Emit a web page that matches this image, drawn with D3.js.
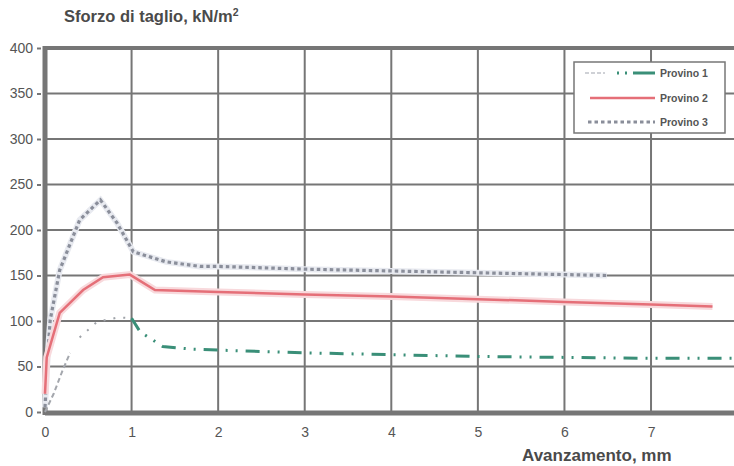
<!DOCTYPE html>
<html><head><meta charset="utf-8">
<script src="https://cdn.jsdelivr.net/npm/d3@7"></script>
<style>body{margin:0;background:#fff}svg{display:block}</style>
</head><body>
<svg id="c" width="734" height="466"></svg>
<script>
const xTicks = [0,1,2,3,4,5,6,7,8];
const yTicks = [0,50,100,150,200,250,300,350,400];
const seriesNames = ["Provino 1","Provino 2","Provino 3"];
// Provino 1: initial grey part and green part
const p1StartX = [0,0.1,0.2,0.29];
const p1StartY = [0,20,45,65];
const p1MidX = [0.40,0.6,0.85,1.0];
const p1MidY = [82,99,104,103];
const p1X = [1.0,1.1,1.36,1.7,2,3,4,5,6,7,8];
const p1Y = [103,88,72,69,68,65,63,61,60,59,59];
const p2X = [0,0.02,0.17,0.44,0.67,0.98,1.27,2,3,4,5,6,7,7.71];
const p2Y = [20,60,109,134,148,151,134,132,129,127,124,121,118,116];
const p3X = [0,0.03,0.06,0.17,0.40,0.64,0.83,1.02,1.4,1.79,2,3,4,5,6,6.49];
const p3Y = [5,60,101,156,211,233,208,176,165,160,160,157,155,153,151,150];

const svg = d3.select("#c");
const x = d3.scaleLinear().domain([0,8]).range([45,737.6]);
const y = d3.scaleLinear().domain([0,400]).range([412,48]);
const grid = "#767676";
const font = "Liberation Sans, Arial, sans-serif";

// grid
svg.append("g").selectAll("line").data(xTicks.slice(1)).join("line")
  .attr("x1",d=>x(d)).attr("x2",d=>x(d)).attr("y1",y(0)).attr("y2",y(400))
  .attr("stroke",grid).attr("stroke-width",2);
svg.append("g").selectAll("line").data(yTicks.slice(1,-1)).join("line")
  .attr("x1",x(0)).attr("x2",734).attr("y1",d=>y(d)).attr("y2",d=>y(d))
  .attr("stroke",grid).attr("stroke-width",2);
// frame
svg.append("line").attr("x1",x(0)).attr("x2",734).attr("y1",y(400)).attr("y2",y(400)).attr("stroke",grid).attr("stroke-width",4);
svg.append("line").attr("x1",x(0)).attr("x2",734).attr("y1",y(0)+1).attr("y2",y(0)+1).attr("stroke",grid).attr("stroke-width",5);
svg.append("line").attr("x1",x(0)).attr("x2",x(0)).attr("y1",y(400)-2).attr("y2",y(0)+3).attr("stroke",grid).attr("stroke-width",5);

// axes tick labels via d3 axes
const ax = svg.append("g").attr("transform",`translate(0,${y(0)+4})`)
  .call(d3.axisBottom(x).tickValues(xTicks).tickFormat(d3.format("d")).tickSize(0).tickPadding(11));
const ay = svg.append("g").attr("transform",`translate(${x(0)-4},0)`)
  .call(d3.axisLeft(y).tickValues(yTicks).tickFormat(d3.format("d")).tickSize(4).tickPadding(4));
[ax,ay].forEach(a=>{
  a.select(".domain").remove();
  a.selectAll("text").attr("fill","#555").attr("font-family",font).attr("font-size",14);
  a.selectAll("line").attr("stroke",grid).attr("stroke-width",2);
});

const line = d3.line().x(d=>x(d[0])).y(d=>y(d[1]));
const zip = (a,b)=>a.map((v,i)=>[v,b[i]]);

// Provino 3
svg.append("path").attr("d",line(zip(p3X,p3Y))).attr("fill","none")
  .attr("stroke","#e8eaf0").attr("stroke-width",6);
svg.append("path").attr("d",line(zip(p3X,p3Y))).attr("fill","none")
  .attr("stroke","#8a8e9a").attr("stroke-width",3.2).attr("stroke-dasharray","3.5,3");
// Provino 2
svg.append("path").attr("d",line(zip(p2X,p2Y))).attr("fill","none")
  .attr("stroke","#f8d9dc").attr("stroke-width",7);
svg.append("path").attr("d",line(zip(p2X,p2Y))).attr("fill","none")
  .attr("stroke","#e56f78").attr("stroke-width",2.5);
// Provino 1
svg.append("path").attr("d",line(zip(p1StartX,p1StartY))).attr("fill","none")
  .attr("stroke","#a4a7ad").attr("stroke-width",2).attr("stroke-dasharray","5,3");
svg.append("path").attr("d",line(zip(p1MidX,p1MidY))).attr("fill","none")
  .attr("stroke","#9ea2a8").attr("stroke-width",2).attr("stroke-dasharray","2,8");
svg.append("path").attr("d",line(zip(p1X,p1Y))).attr("fill","none")
  .attr("stroke","#3a8f78").attr("stroke-width",3).attr("stroke-dasharray","14,8,2,8,2,8");

// legend
const lg = svg.append("g");
lg.append("rect").attr("x",574).attr("y",62).attr("width",151).attr("height",71)
  .attr("fill","#fff").attr("stroke","#777").attr("stroke-width",1.5);
const rows = [73,98,122];
lg.append("line").attr("x1",585).attr("x2",605).attr("y1",rows[0]).attr("y2",rows[0]).attr("stroke","#cfd1d6").attr("stroke-width",2).attr("stroke-dasharray","4,2");
lg.append("line").attr("x1",617).attr("x2",655).attr("y1",rows[0]).attr("y2",rows[0]).attr("stroke","#3a8f78").attr("stroke-width",3).attr("stroke-dasharray","2,6,2,6,20,0");
lg.append("line").attr("x1",590).attr("x2",655).attr("y1",rows[1]).attr("y2",rows[1]).attr("stroke","#e56f78").attr("stroke-width",2.5);
lg.append("line").attr("x1",588).attr("x2",655).attr("y1",rows[2]).attr("y2",rows[2]).attr("stroke","#8a8e9a").attr("stroke-width",3).attr("stroke-dasharray","3.5,3");
lg.selectAll("text").data(seriesNames).join("text")
  .attr("x",660).attr("y",(d,i)=>rows[i]+4).text(d=>d)
  .attr("font-family",font).attr("font-weight","bold").attr("font-size",10.5).attr("fill","#555");

// titles
svg.append("text").attr("x",64).attr("y",22).attr("font-family",font)
  .attr("font-weight","bold").attr("font-size",16.5).attr("fill","#4a4a4a")
  .html('Sforzo di taglio, kN/m<tspan dy="-6" font-size="10.5">2</tspan>');
svg.append("text").attr("x",522).attr("y",461).attr("font-family",font)
  .attr("font-weight","bold").attr("font-size",17).attr("fill","#4a4a4a").text("Avanzamento, mm");
</script>
</body></html>
